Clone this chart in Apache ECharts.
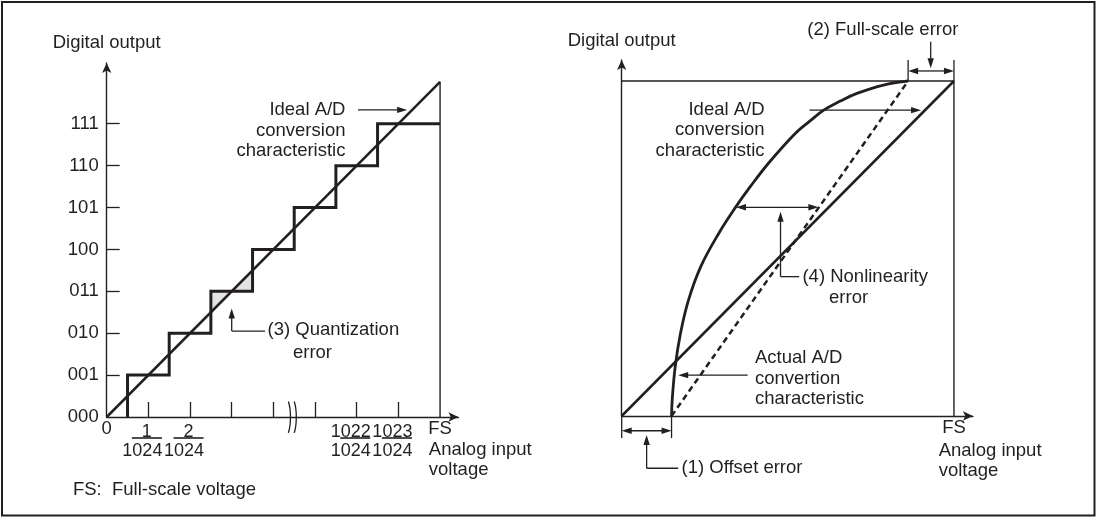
<!DOCTYPE html>
<html><head><meta charset="utf-8">
<script src="https://cdn.jsdelivr.net/npm/echarts@6/dist/echarts.min.js"></script>
<style>html,body{margin:0;padding:0;background:#fff}#c{width:1100px;height:517px}</style>
</head><body><div id="c"></div>
<script>
// ---------- Left chart: ideal 3-bit transfer (units = 1 LSB, FS = 8) ----------
const codeLabels = ['000','001','010','011','100','101','110','111'];
const codeLevels = [1,2,3,4,5,6,7];
const stepEdges = [0.5,1.5,2.5,3.5,4.5,5.5,6.5];
const fullScaleLeft = 8;
const xTickValues = [1,2,3,4,5,6,7];
const yTickValues = [1,2,3,4,5,6,7];
const xLabelValues = [0,1,2,6,7,8];
const xLabelNums = {1:'1',2:'2',6:'1022',7:'1023'};
const fracDen = '1024';
const idealLeft = [[0,0],[8,8]];
const fsLineLeft = [[8,0],[8,8]];
const quantShade = [[2.5,2.5, 2.5,3, 3,3],[3,3, 3.5,3, 3.5,3.5]];
const breakMarks = [[4.36,0.37, 4.41,0, 4.36,-0.38],[4.50,0.37, 4.55,0, 4.50,-0.38]];
const arrowsLeft = [ // x1,y1,x2,y2,heads(0 none,1 end,2 both)
  [6.03,7.33, 7.21,7.33, 1],
  [3.0,2.05, 3.0,2.59, 1],
  [3.0,2.05, 3.80,2.05, 0]
];
const textsLeft = [ // x,y
  [5.73,6.84],[3.86,2.08],[4.47,1.53],[-0.81,-1.74],[7.73,-1.03]
];
const textsLeftStr = ['Ideal A/D\nconversion\ncharacteristic','(3) Quantization','error','FS:  Full-scale voltage','Analog input\nvoltage'];
const textsLeftAlign = ['right','left','left','left','left'];

// ---------- Right chart: error characteristics (units = % of FS) ----------
const idealRight = [[0,0],[100,100]];
const boxRight = [[0,100],[100,100],[100,0]];
const dashedRight = [[15,0],[86.2,100]];
const actualCurve = [[15,0],[15.2,4.8],[16.1,14.7],[17.7,24.7],[20.1,34.6],[23.8,44.6],[29.2,54.5],[34.4,62.5],[38.8,68.6],[44.3,75.6],[52.3,84.4],[56.6,88.0],[60.8,91.3],[65.8,94.0],[70.8,96.3],[78.8,98.8],[86.2,100]];
const arrowsRight = [
  [56.5,91.3, 90.1,91.3, 1],
  [34.4,62.3, 59.2,62.3, 2],
  [47.8,41.6, 47.8,61.0, 1],
  [47.8,41.6, 53.4,41.6, 0],
  [37.9,12.2, 17.0,12.2, 1],
  [86.2,100, 86.2,106.3, 0],
  [100,100, 100,106.3, 0],
  [86.2,103, 100,103, 2],
  [93.0,111.7, 93.0,103.8, 1],
  [0,0, 0,-6.6, 0],
  [15,0, 15,-6.6, 0],
  [0,-4.4, 15,-4.4, 2],
  [7.5,-15.6, 7.5,-5.7, 1],
  [7.5,-15.6, 17.0,-15.6, 0]
];
const textsRight = [[43.0,85.3],[54.4,41.6],[62.4,35.2],[40.1,11.1],[78.6,115.2],[18.0,-15.4],[95.4,-13.4]];
const textsRightStr = ['Ideal A/D\nconversion\ncharacteristic','(4) Nonlinearity','error','Actual A/D\nconvertion\ncharacteristic','(2) Full-scale error','(1) Offset error','Analog input\nvoltage'];
const textsRightAlign = ['right','left','left','left','center','left','left'];

// ---------- styling ----------
const INK = '#231f20';
const FONT = '"Liberation Sans", Arial, Helvetica, sans-serif';
const FS = 18.5;
const FS_FRAC = 18;

function stepPath() {
  const pts = [];
  for (let i = 0; i < stepEdges.length; i++) {
    pts.push([stepEdges[i], i === 0 ? 0 : codeLevels[i-1]]);
    pts.push([stepEdges[i], codeLevels[i]]);
  }
  pts.push([fullScaleLeft, codeLevels[codeLevels.length-1]]);
  return pts;
}

function arrowRender(params, api) {
  const p1 = api.coord([api.value(0), api.value(1)]);
  const p2 = api.coord([api.value(2), api.value(3)]);
  const heads = api.value(4);
  const L = 10, W = 3.2;
  const dx = p2[0]-p1[0], dy = p2[1]-p1[1], len = Math.hypot(dx,dy);
  const ux = dx/len, uy = dy/len;
  let s = p1, e = p2;
  const kids = [];
  function head(tip, ax, ay) {
    const bx = tip[0]-ax*L, by = tip[1]-ay*L;
    return {type:'polygon', shape:{points:[tip,[bx-ay*W,by+ax*W],[bx+ay*W,by-ax*W]]}, style:{fill:INK}};
  }
  if (heads >= 1) { kids.push(head(p2, ux, uy)); e = [p2[0]-ux*L*0.7, p2[1]-uy*L*0.7]; }
  if (heads >= 2) { kids.push(head(p1, -ux, -uy)); s = [p1[0]+ux*L*0.7, p1[1]+uy*L*0.7]; }
  kids.unshift({type:'line', shape:{x1:s[0],y1:s[1],x2:e[0],y2:e[1]}, style:{stroke:INK, lineWidth:1.3}});
  return {type:'group', children:kids};
}
function textRender(strs, aligns) {
  return function (params, api) {
    const p = api.coord([api.value(0), api.value(1)]);
    return {type:'text', x:p[0], y:p[1], style:{text:strs[params.dataIndex], fill:INK, fontSize:FS, fontFamily:FONT,
      align:aligns[params.dataIndex], verticalAlign:'middle', lineHeight:20.5}};
  };
}
function polyRender(params, api) {
  const pts = [];
  for (let i = 0; i < 3; i++) pts.push(api.coord([api.value(2*i), api.value(2*i+1)]));
  return {type:'polygon', shape:{points:pts}, style:{fill:'#e4e4e4'}};
}
function breakRender(params, api) {
  const pts = [];
  for (let i = 0; i < 3; i++) pts.push(api.coord([api.value(2*i), api.value(2*i+1)]));
  return {type:'polyline', shape:{points:pts, smooth:0.6}, style:{stroke:INK, lineWidth:1.3, fill:null}};
}

const axisLineStyle = {color: INK, width: 1.4};
const chart = echarts.init(document.getElementById('c'), null, {renderer:'canvas'});
const fracRich = {
  z:{fontSize:FS, fontFamily:FONT, color:INK, lineHeight:1},
  n:{fontSize:FS_FRAC, fontFamily:FONT, color:INK, lineHeight:9},
  d:{fontSize:FS_FRAC, fontFamily:FONT, color:INK, lineHeight:25},
  sp3:{width:3, lineHeight:9}, sp12:{width:12, lineHeight:9},
  s1:{width:3.5, lineHeight:2}, s2:{width:6.5, lineHeight:2},
  b:{width:30, height:1.6, lineHeight:2, backgroundColor:INK}
};
chart.setOption({
  animation:false,
  textStyle:{fontFamily:FONT, color:INK},
  graphic:[{type:'rect', shape:{x:2, y:2, width:1092.5, height:513.5}, style:{fill:'none', stroke:INK, lineWidth:2}, silent:true}],
  grid:[
    {left:106.7, top:63, width:351.7, height:354, outerBoundsMode:'none', containLabel:false},
    {left:621.7, top:59.9, width:351.2, height:356.1, outerBoundsMode:'none', containLabel:false}
  ],
  xAxis:[
    {type:'value', gridIndex:0, min:0, max:8.44, splitLine:{show:false},
     axisLine:{show:true, lineStyle:axisLineStyle, symbol:['none','arrow'], symbolSize:[7,10]},
     axisTick:{show:true, inside:true, length:15, customValues:xTickValues, lineStyle:{color:INK, width:1.3}},
     axisLabel:{show:true, interval:0, margin:11, customValues:xLabelValues, color:INK, fontSize:FS, fontFamily:FONT,
       formatter:function(v){
         if (v === 0) return '{z|0}';
         if (v === fullScaleLeft) return '{z|FS}';
         const n = xLabelNums[v];
         const ns = n.length > 1 ? 'sp12' : 'sp3';
         return '{n|'+n+'}{'+ns+'| }\n{s1| }{b| }{s2| }\n{d|'+fracDen+'}{sp12| }';
       }, rich:fracRich}},
    {type:'value', gridIndex:1, min:0, max:105.7, splitLine:{show:false},
     axisLine:{show:true, lineStyle:axisLineStyle, symbol:['none','arrow'], symbolSize:[7,10]},
     axisTick:{show:false},
     axisLabel:{show:true, interval:0, margin:11, customValues:[100], color:INK, fontSize:FS, fontFamily:FONT,
       formatter:function(){return '{z|FS}';}, rich:fracRich}}
  ],
  yAxis:[
    {type:'value', gridIndex:0, min:0, max:8.45, splitLine:{show:false},
     name:'Digital output', nameLocation:'end', nameGap:11, nameTextStyle:{color:INK, fontSize:FS, fontFamily:FONT},
     axisLine:{show:true, lineStyle:axisLineStyle, symbol:['none','arrow'], symbolSize:[7,10]},
     axisTick:{show:true, inside:true, length:13, customValues:yTickValues, lineStyle:{color:INK, width:1.3}},
     axisLabel:{show:true, interval:0, margin:8, customValues:[0,1,2,3,4,5,6,7], color:INK, fontSize:FS, fontFamily:FONT,
       formatter:function(v){return codeLabels[v];}}},
    {type:'value', gridIndex:1, min:0, max:106.3, splitLine:{show:false},
     name:'Digital output', nameLocation:'end', nameGap:9, nameTextStyle:{color:INK, fontSize:FS, fontFamily:FONT},
     axisLine:{show:true, lineStyle:axisLineStyle, symbol:['none','arrow'], symbolSize:[7,10]},
     axisTick:{show:false}, axisLabel:{show:false}}
  ],
  series:[
    {type:'custom', xAxisIndex:0, yAxisIndex:0, data:quantShade, renderItem:polyRender, silent:true},
    {type:'line', xAxisIndex:0, yAxisIndex:0, data:fsLineLeft, symbol:'none', lineStyle:{color:INK, width:1.4}, silent:true},
    {type:'line', xAxisIndex:0, yAxisIndex:0, data:stepPath(), symbol:'none', lineStyle:{color:INK, width:3, join:'miter'}, silent:true},
    {type:'line', xAxisIndex:0, yAxisIndex:0, data:idealLeft, symbol:'none', lineStyle:{color:INK, width:2.5}, silent:true},
    {type:'custom', xAxisIndex:0, yAxisIndex:0, data:breakMarks, renderItem:breakRender, silent:true},
    {type:'custom', xAxisIndex:0, yAxisIndex:0, data:arrowsLeft, renderItem:arrowRender, silent:true},
    {type:'custom', xAxisIndex:0, yAxisIndex:0, data:textsLeft, renderItem:textRender(textsLeftStr, textsLeftAlign), silent:true},

    {type:'line', xAxisIndex:1, yAxisIndex:1, data:boxRight, symbol:'none', lineStyle:{color:INK, width:1.4}, silent:true},
    {type:'line', xAxisIndex:1, yAxisIndex:1, data:idealRight, symbol:'none', lineStyle:{color:INK, width:2.5}, silent:true},
    {type:'line', xAxisIndex:1, yAxisIndex:1, data:dashedRight, symbol:'none', lineStyle:{color:INK, width:2.5, type:[6,4]}, silent:true},
    {type:'line', xAxisIndex:1, yAxisIndex:1, data:actualCurve, symbol:'none', smooth:0.4, lineStyle:{color:INK, width:2.8}, silent:true},
    {type:'custom', xAxisIndex:1, yAxisIndex:1, data:arrowsRight, renderItem:arrowRender, silent:true},
    {type:'custom', xAxisIndex:1, yAxisIndex:1, data:textsRight, renderItem:textRender(textsRightStr, textsRightAlign), silent:true}
  ]
});
</script></body></html>
